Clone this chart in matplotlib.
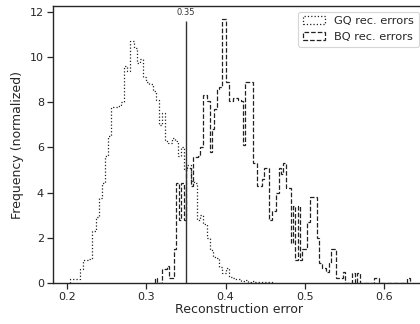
import numpy as np
import matplotlib
matplotlib.use("Agg")
import matplotlib.pyplot as plt

# ---- data ----
gq_start, gq_width = 0.204, 0.004
gq_heights = [0.18, 0.18, 0.15, 0.6, 1.0, 1.0, 1.05, 2.3, 2.9, 3.75,
              4.4, 5.6, 6.5, 7.8, 7.8, 7.85, 8.0, 9.6, 9.4, 10.7,
              10.4, 9.75, 9.9, 9.1, 8.9, 8.8, 8.5, 8.1, 7.0, 7.5,
              6.3, 6.2, 6.4, 6.3, 5.6, 6.0, 5.0, 5.2, 4.5, 4.4,
              2.8, 3.0, 2.6, 2.0, 1.45, 1.15, 1.1, 0.7, 0.45, 0.65,
              0.25, 0.2, 0.15, 0.18, 0.1, 0.12, 0.05, 0.08, 0.05, 0.05,
              0.04, 0.05, 0.03, 0.05]

bq_start, bq_width = 0.311, 0.003
bq_heights = [0.2, 0, 0, 0.6, 0.6, 0.75, 0.2, 0.2, 1.5, 4.4,
              2.8, 4.4, 2.8, 5.1, 5.1, 4.3, 5.55, 5.55, 5.6, 6.0,
              8.3, 8.3, 8.05, 5.8, 6.8, 7.7, 8.6, 8.65, 11.7, 11.7,
              8.9, 8.05, 8.05, 8.2, 8.2, 8.1, 8.05, 6.1, 8.9, 8.9,
              8.9, 5.3, 5.3, 4.3, 4.3, 4.6, 5.1, 5.1, 2.8, 3.2,
              3.2, 4.0, 5.1, 4.8, 5.3, 4.2, 4.2, 1.76, 3.4, 1.0,
              3.4, 1.0, 1.5, 1.5, 2.7, 3.8, 3.8, 3.8, 2.0, 0.9,
              0.66, 0.66, 0.5, 0.9, 1.5, 1.5, 0.2, 0.2, 0.2, 0.5,
              0, 0, 0, 0.45, 0, 0.45, 0, 0, 0, 0,
              0, 0, 0.2, 0.2, 0, 0, 0, 0, 0, 0,
              0, 0, 0, 0, 0, 0, 0.2]

threshold = 0.35
labels = ["GQ rec. errors", "BQ rec. errors"]
xticks = [0.2, 0.3, 0.4, 0.5, 0.6]
yticks = [0, 2, 4, 6, 8, 10, 12]

gq_edges = gq_start + gq_width * np.arange(len(gq_heights) + 1)
bq_edges = bq_start + bq_width * np.arange(len(bq_heights) + 1)

text_color = "#262626"
plt.rcParams['font.family'] = ['DejaVu Sans']
plt.rcParams['text.color'] = text_color
plt.rcParams['axes.labelcolor'] = text_color
plt.rcParams['xtick.color'] = text_color
plt.rcParams['ytick.color'] = text_color

fig = plt.figure(figsize=(4.2, 3.24), dpi=100)
ax = fig.add_axes([0.126, 0.127, 0.885, 0.854])

ax.hist(gq_edges[:-1], bins=gq_edges, weights=gq_heights, histtype='step',
        color='#222222', linestyle=':', linewidth=0.9, label=labels[0])
ax.hist(bq_edges[:-1], bins=bq_edges, weights=bq_heights, histtype='step',
        color='#222222', linestyle='--', linewidth=0.9, label=labels[1])

ax.set_xlim(0.1823, 0.651)
ax.set_ylim(0, 12.25)
ax.vlines(threshold, 0, 11.6, color='#333333', linewidth=1.0)
ax.text(threshold, 11.75, f"{threshold}", ha='center', va='bottom', fontsize=6,
        color='#333333')

ax.set_xticks(xticks)
ax.set_yticks(yticks)
ax.set_xticklabels([f"{v:.1f}" for v in xticks])
ax.tick_params(labelsize=8, length=4, width=0.9, pad=2.5)
ax.set_xlabel("Reconstruction error", fontsize=9, labelpad=1)
ax.set_ylabel("Frequency (normalized)", fontsize=9, labelpad=4)
for s in ax.spines.values():
    s.set_linewidth(1.0)
    s.set_color(text_color)

leg = ax.legend(loc='upper right', fontsize=8.2, frameon=True, fancybox=True,
                handlelength=2.0, borderaxespad=0.5)
leg.get_frame().set_edgecolor('#cccccc')
leg.get_frame().set_linewidth(0.8)

fig.savefig("out.png", dpi=100)
